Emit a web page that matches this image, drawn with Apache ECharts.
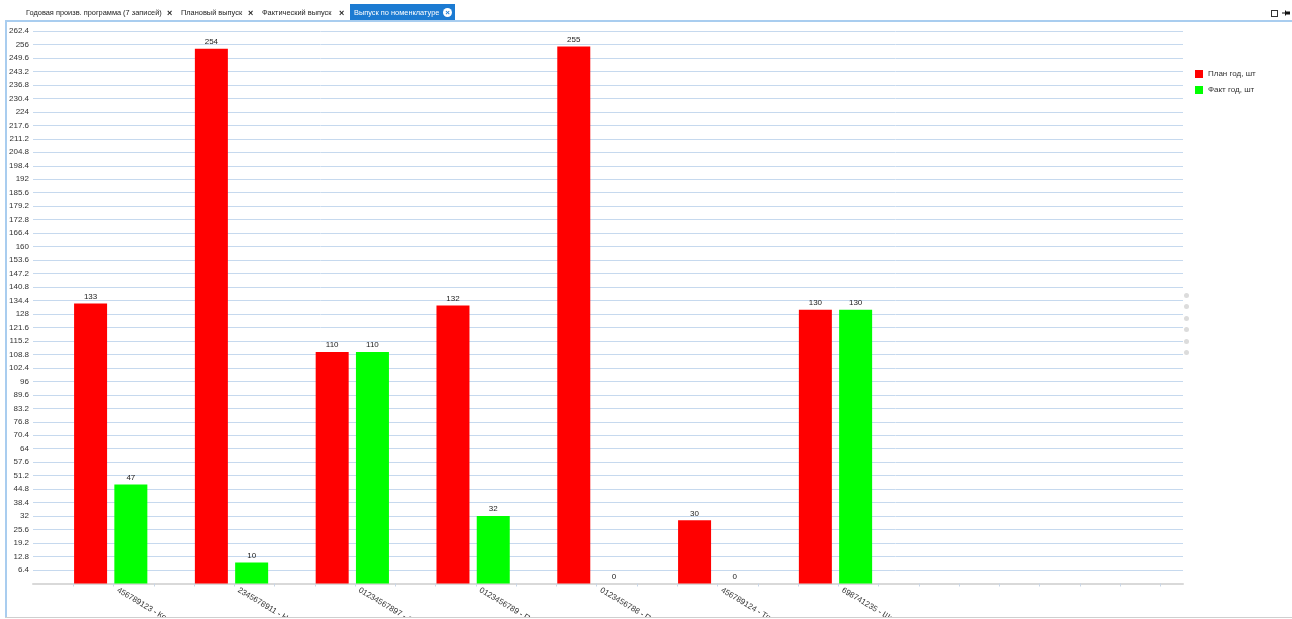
<!DOCTYPE html>
<html>
<head>
<meta charset="utf-8">
<script src="https://cdn.jsdelivr.net/npm/echarts@6/dist/echarts.min.js"></script>
<style>
  html, body { margin: 0; padding: 0; background: #fff; width: 1292px; height: 619px; overflow: hidden; font-family: "Liberation Sans", Arial, sans-serif; }
  #tabs { position: absolute; left: 0; top: 0; width: 1292px; height: 21px; font-size: 7.4px; color: #222; }
  .tab { position: absolute; top: 5px; height: 16px; line-height: 16px; white-space: nowrap; }
  .x { position: absolute; top: 5px; height: 16px; line-height: 16px; font-weight: bold; font-size: 9px; color: #222; }
  #active { position: absolute; left: 350px; top: 4px; width: 105px; height: 17px; background: #1c7bd2; color: #fff; }
  #active span { position: absolute; left: 4px; top: 1px; line-height: 16px; font-size: 7.4px; white-space: nowrap; }
  #active i { position: absolute; left: 93px; top: 4px; width: 9px; height: 9px; border-radius: 50%; background: #fff; color: #1c7bd2; font-style: normal; font-size: 8px; line-height: 9px; text-align: center; font-weight: bold; }
  #topline { position: absolute; left: 5px; top: 20px; width: 1287px; height: 2px; background: #a9cdef; }
  #leftline { position: absolute; left: 5px; top: 20px; width: 2px; height: 598px; background: #a9cdef; }
  #bottomline { position: absolute; left: 5px; top: 617px; width: 1287px; height: 1px; background: #cfcfcf; }
  #chart { position: absolute; left: 0; top: 0; width: 1292px; height: 617px; }
  .dot { position: absolute; left: 1184px; width: 5px; height: 5px; border-radius: 50%; background: #dcdcdc; }
  #sq { position: absolute; left: 1271px; top: 10px; width: 5px; height: 5px; border: 1px solid #333; }
  #pin { position: absolute; left: 1282px; top: 10px; width: 8px; height: 6px; }
</style>
</head>
<body>
<div id="chart"></div>
<div id="tabs">
  <div class="tab" style="left:26px">Годовая произв. программа (7 записей)</div>
  <div class="x" style="left:167px">×</div>
  <div class="tab" style="left:181px">Плановый выпуск</div>
  <div class="x" style="left:248px">×</div>
  <div class="tab" style="left:262px">Фактический выпуск</div>
  <div class="x" style="left:339px">×</div>
  <div id="active"><span>Выпуск по номенклатуре</span><i>×</i></div>
  <div id="sq"></div>
  <svg id="pin" viewBox="0 0 8 6"><rect x="0" y="2.5" width="3" height="1" fill="#111"/><rect x="3" y="0.5" width="1" height="5" fill="#111"/><rect x="4" y="1.5" width="4" height="3" fill="#111"/></svg>
</div>
<div id="topline"></div>
<div id="leftline"></div>
<div id="bottomline"></div>
<div class="dot" style="top:293px"></div>
<div class="dot" style="top:304px"></div>
<div class="dot" style="top:316px"></div>
<div class="dot" style="top:327px"></div>
<div class="dot" style="top:339px"></div>
<div class="dot" style="top:350px"></div>
<script>
// ---- data ----
const categories = ["456789123 - Кол", "2345678911 - Не", "01234567897 - О", "0123456789 - По", "0123456788 - По", "456789124 - Тру", "698741235 - Шаб"];
const planValues = [133, 254, 110, 132, 255, 30, 130];
const factValues = [47, 10, 110, 32, 0, 0, 130];
const seriesNames = ["План год, шт", "Факт год, шт"];
const yMin = 0, yMax = 262.4, yStep = 6.4;

// each category occupies 3 slots on the x scale: plan slot, fact slot, empty slot
const SLOTS = 3;
const xMax = 28.56;
const planPos = categories.map((c, i) => SLOTS * i + 1.43);
const factPos = categories.map((c, i) => SLOTS * i + 2.43);
const labelPos = categories.map((c, i) => SLOTS * i + 2.1);
const tickPos = [];
for (let t = 1; t < xMax; t++) tickPos.push(t);

const chart = echarts.init(document.getElementById('chart'), null, { renderer: 'canvas' });
const font = '"Liberation Sans", Arial, sans-serif';
chart.setOption({
  animation: false,
  textStyle: { fontFamily: font },
  grid: { left: 33, right: 109, top: 31, bottom: 33.5, containLabel: false, outerBoundsMode: 'none' },
  legend: {
    orient: 'vertical', left: 1195, top: 70, padding: 0, itemWidth: 8, itemHeight: 8, itemGap: 8,
    icon: 'rect', itemStyle: { borderWidth: 0 },
    textStyle: { fontSize: 8, color: '#333', fontFamily: font },
    data: seriesNames
  },
  xAxis: {
    type: 'value', min: 0, max: xMax, interval: 1,
    splitLine: { show: false },
    axisLine: { show: true, lineStyle: { color: '#d9d9d9', width: 2 } },
    axisTick: { show: true, length: 3, customValues: tickPos, lineStyle: { color: '#c9d6e6' } },
    axisLabel: {
      show: true, customValues: labelPos, rotate: -31, margin: 6, fontSize: 8, color: '#333', fontFamily: font,
      formatter: v => {
        const i = labelPos.findIndex(p => Math.abs(p - v) < 1e-6);
        return i >= 0 ? categories[i] : '';
      }
    }
  },
  yAxis: {
    type: 'value', min: yMin, max: yMax, interval: yStep,
    axisLine: { show: false }, axisTick: { show: false },
    axisLabel: { fontSize: 8, color: '#333', margin: 4, showMinLabel: false, fontFamily: font },
    splitLine: { show: true, lineStyle: { color: '#c6d9ee', width: 1 } }
  },
  series: [
    {
      name: seriesNames[0], type: 'bar', barWidth: 33,
      itemStyle: { color: '#ff0000' },
      label: { show: true, position: 'top', distance: 3, fontSize: 8, color: '#222', fontFamily: font, formatter: p => p.value[1] },
      data: planValues.map((v, i) => [planPos[i], v])
    },
    {
      name: seriesNames[1], type: 'bar', barWidth: 33, barGap: '-100%',
      itemStyle: { color: '#00ff00' },
      label: { show: true, position: 'top', distance: 3, fontSize: 8, color: '#222', fontFamily: font, formatter: p => p.value[1] },
      data: factValues.map((v, i) => [factPos[i], v])
    }
  ]
});
</script>
</body>
</html>
